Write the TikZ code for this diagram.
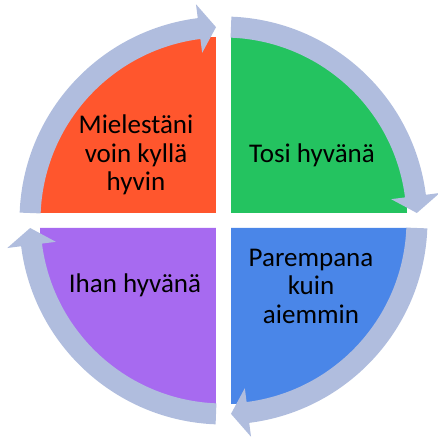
\documentclass[tikz,border=0pt]{standalone}
\usepackage{fontspec}
\setmainfont{Carlito}
\definecolor{secorange}{RGB}{255,86,45}
\definecolor{secgreen}{RGB}{36,195,96}
\definecolor{secblue}{RGB}{74,134,232}
\definecolor{secpurple}{RGB}{167,106,240}
\definecolor{ringcol}{RGB}{176,189,222}
\begin{document}
\begin{tikzpicture}[x=1pt,y=1pt,
  label/.style={font=\fontsize{27}{28.5}\selectfont, align=center, text=black, inner sep=0pt},
  ringarrow/.style={fill=ringcol, draw=none}]
\useasboundingbox (-223.5,-218.5) rectangle (214.5,220.5);
% four quarter sectors, split by a small gap
\def\g{7.5}
\def\R{176}
\fill[secorange] (-\g,\g) -- ++(-\R,0) arc[start angle=180,end angle=90,radius=\R] -- cycle;
\fill[secgreen]  (\g,\g) -- ++(0,\R) arc[start angle=90,end angle=0,radius=\R] -- cycle;
\fill[secblue]   (\g,-\g) -- ++(\R,0) arc[start angle=0,end angle=-90,radius=\R] -- cycle;
\fill[secpurple] (-\g,-\g) -- ++(0,-\R) arc[start angle=-90,end angle=-180,radius=\R] -- cycle;
% clockwise ring of curved arrows, one per quadrant
\foreach \k in {0,...,3}{
  \begin{scope}[rotate=-90*\k]
    \fill[ringarrow] (177.78:183) arc[start angle=177.78,end angle=97.25,radius=183]
      -- (97.25:169) -- (92.22:193.5) -- (97.25:218) -- (97.25:204)
      arc[start angle=97.25,end angle=177.78,radius=204] -- cycle;
  \end{scope}
}
% labels
\node[label] (tl) at (-87.5,65.5) {Mielestäni\\voin kyllä\\hyvin};
\node[label, anchor=base] (tr) at (88.5,57.5) {Tosi hyvänä};
\node[label] (br) at (87.5,-65.5) {Parempana\\kuin\\aiemmin};
\node[label, anchor=base] (bl) at (-88.5,-71.5) {Ihan hyvänä};
\end{tikzpicture}
\end{document}
